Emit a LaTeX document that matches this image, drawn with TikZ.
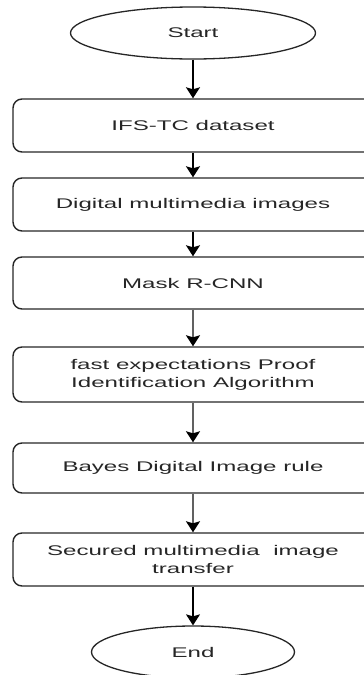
\documentclass[tikz,border=0pt]{standalone}
\usepackage{fontspec}
\setmainfont{Liberation Sans}
\newfontfamily\chartfont[FakeStretch=1.72]{Liberation Sans}
\usetikzlibrary{shapes.geometric,arrows.meta}

\begin{document}
\begin{tikzpicture}[
    x=1pt, y=-1pt,
    every node/.style={font=\chartfont\fontsize{14}{18}\selectfont, text=black!85},
    terminal/.style={ellipse, draw=black!85, line width=1.3pt, minimum height=52pt, inner sep=0pt},
    process/.style={rectangle, rounded corners=9pt, draw=black!85, line width=1.4pt,
        minimum width=360pt, minimum height=53pt, align=center},
    flow/.style={-{Stealth[width=14pt,length=11pt,inset=2pt]}, line width=1.4pt},
    greyflow/.style={-{Stealth[width=14pt,length=11pt,inset=2pt,color=black]}, line width=1.8pt, black!62},
]

% Page frame
\useasboundingbox (0,0) rectangle (364,675);
\clip (0,0) rectangle (364,675);

% Start and end
\node[terminal, minimum width=245pt] (start) at (193,33) {Start};
\node[terminal, minimum width=203pt] (end) at (193,652) {End};

% Steps
\node[process] (dataset) at (193,125.5) {IFS-TC dataset};
\node[process] (images) at (193,204.5) {Digital multimedia images};
\node[process, minimum height=52pt] (maskrcnn) at (193,283) {Mask R-CNN};
\node[process, minimum height=55pt] (proof) at (193,374.5) {fast expectations Proof\\Identification Algorithm};
\node[process, minimum height=50pt] (bayes) at (193,468) {Bayes Digital Image rule};
\node[process] (transfer) at (193,559.5) {Secured multimedia~ image\\transfer};

% Arrows
\draw[flow] (start) -- (dataset);
\draw[flow] (dataset) -- (images);
\draw[flow] (images) -- (maskrcnn);
\draw[greyflow] (maskrcnn) -- (proof);
\draw[greyflow] (proof) -- (bayes);
\draw[greyflow] (bayes) -- (transfer);
\draw[flow] (transfer) -- (end);

\end{tikzpicture}
\end{document}
